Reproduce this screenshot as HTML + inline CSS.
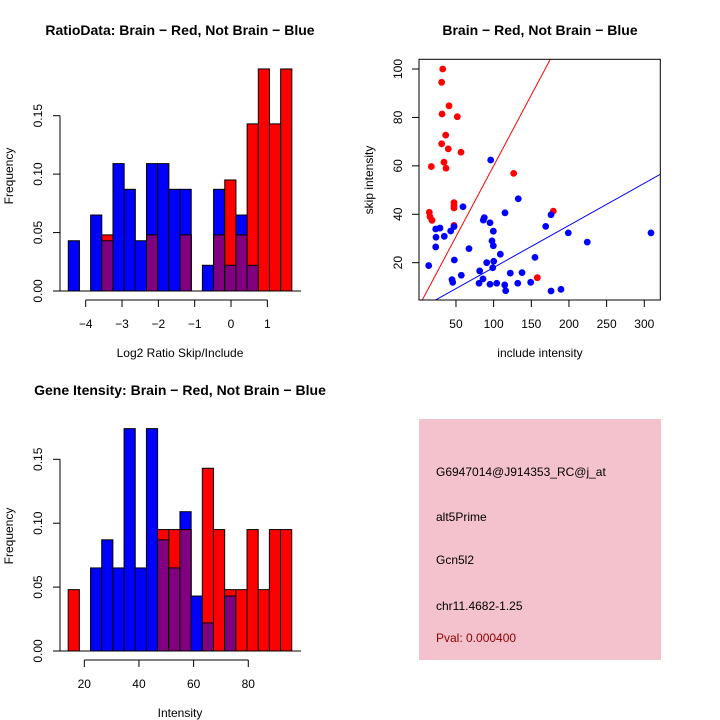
<!DOCTYPE html>
<html><head><meta charset="utf-8"><style>
html,body{margin:0;padding:0;background:#fff;}
svg{display:block;font-family:"Liberation Sans",sans-serif;}
</style></head><body>
<svg id="c" width="720" height="720" viewBox="0 0 720 720" xmlns="http://www.w3.org/2000/svg">
<rect x="0" y="0" width="720" height="720" fill="#fff"/>
<g id="p1"></g>
<g id="p2"></g>
<g id="p3"></g>
<g id="p4">
<rect x="419" y="419" width="242" height="241" fill="#f4c2cd"/>
<text x="436" y="476" font-size="12">G6947014@J914353_RC@j_at</text>
<text x="436" y="521" font-size="12">alt5Prime</text>
<text x="436" y="564" font-size="12">Gcn5l2</text>
<text x="436" y="610" font-size="12">chr11.4682-1.25</text>
<text x="436" y="642" font-size="12" fill="#8b0000">Pval: 0.000400</text>
</g>
</svg>
<script>
// ---- Panel 1: ratio histogram data ----
const ratioBinStart = -4.48;
const ratioBinWidth = 0.3077;
const ratioBlue = [0.043,0,0.065,0.043,0.109,0.087,0.043,0.109,0.109,0.087,0.087,0,0.022,0.087,0.022,0.065,0.022,0,0,0];
const ratioRed  = [0,0,0,0.048,0,0,0,0.048,0,0,0.048,0,0,0.048,0.095,0.048,0.143,0.190,0.143,0.190];
const ratioXTicks = [-4,-3,-2,-1,0,1];
const freqTicks = [0,0.05,0.10,0.15];
const freqTickLabels = ["0.00","0.05","0.10","0.15"];

// ---- Panel 3: gene intensity histogram data ----
const intBinStart = 14.1;
const intBinWidth = 4.09;
const intBlue = [0,0,0.065,0.087,0.065,0.174,0.065,0.174,0.087,0.065,0.109,0.043,0.022,0,0.043,0,0,0,0,0];
const intRed  = [0.048,0,0,0,0,0,0,0,0.095,0.095,0.095,0,0.143,0.095,0.048,0.048,0.095,0.048,0.095,0.095];
const intXTicks = [20,40,60,80];

// ---- Panel 2: scatter data ----
const redInclude = [32.4,31,40.8,31.5,51.8,36.4,31,39.8,56.7,34.1,36.8,17.3,126.6,14.6,15.5,18.2,47.4,47.4,47.4,47.4,179.2,158];
const redSkip    = [100,94.5,84.8,81.4,80.3,72.7,69.1,67,65.6,61.5,59,59.7,56.9,40.8,39,37.5,44.8,43.6,42.6,35.4,41.3,13.8];
const blueInclude = [96.1,132.7,59.3,115.1,176.2,169.1,47.4,43,28.8,23.1,34.5,23.5,23.1,86.3,87.6,95.2,99.6,97.8,99.6,199.1,224.3,308.9,67.3,108.9,154.9,13.8,47.8,90.8,100.1,98.8,81.5,122.1,137.7,57.1,44.7,45.7,85.9,80.6,95.2,104.1,114.7,116,132,149.2,176.2,189.4];
const blueSkip    = [62.4,46.4,43.1,40.6,39.8,35,34.9,33.1,34.3,33.9,30.9,30.5,26.5,37.6,38.6,36.5,33,29,27,32.3,28.5,32.3,25.8,23.5,22.2,18.8,21.1,20,20.6,17.9,16.6,15.7,15.9,14.8,13,11.9,13.3,11.5,11.1,11.5,10.8,8.4,11.5,11.9,8.3,9];
const redFit = [1.5,0.585];   // intercept, slope
const blueFit = [0.6,0.174];
const scatterXTicks = [50,100,150,200,250,300];
const scatterYTicks = [20,40,60,80,100];

const NS = "http://www.w3.org/2000/svg";
function mk(parent, tag, attrs, text){
  const e = document.createElementNS(NS, tag);
  for (const k in attrs) e.setAttribute(k, attrs[k]);
  if (text !== undefined) e.textContent = text;
  parent.appendChild(e);
  return e;
}

function histogram(g, o){
  const sx = v => o.x0 + (v - o.xRef0) * o.xScale;
  const sy = v => o.yBase - v * o.yScale;
  const n = o.blue.length;
  for (let i = 0; i < n; i++){
    const a = o.start + i * o.width, b = a + o.width;
    const x1 = sx(a), x2 = sx(b);
    const bl = o.blue[i], rd = o.red[i];
    if (bl > 0){
      const r = mk(g, 'rect', {x:x1, y:sy(bl), width:x2-x1, height:sy(0)-sy(bl), fill:'#0000ff', stroke:'#000', 'stroke-width':1});
      
      
    }
    if (rd > 0){
      const r = mk(g, 'rect', {x:x1, y:sy(rd), width:x2-x1, height:sy(0)-sy(rd), fill:'#ff0000', stroke:'#000', 'stroke-width':1});
      
      
    }
    const m = Math.min(bl, rd);
    if (m > 0){
      const r = mk(g, 'rect', {x:x1, y:sy(m), width:x2-x1, height:sy(0)-sy(m), fill:'#800080', stroke:'#000', 'stroke-width':1});
      
      
    }
  }
  // baseline
  const bl = mk(g, 'line', {x1:60, x2:301, y1:sy(0), y2:sy(0), stroke:'#000'});
  
  
  // y axis
  const ya = mk(g, 'line', {x1:60, x2:60, y1:sy(0), y2:sy(0.15), stroke:'#000'});
  
  
  freqTicks.forEach((t, i) => {
    const y = sy(t);
    const tl = mk(g, 'line', {x1:53, x2:60, y1:y, y2:y, stroke:'#000'});
    
    
    const tx = mk(g, 'text', {x:0, y:0, 'font-size':12, 'text-anchor':'middle', transform:`translate(42,${y}) rotate(-90)`}, freqTickLabels[i]);
    
    
  });
  const yl = mk(g, 'text', {x:0, y:0, 'font-size':12, 'text-anchor':'middle', transform:`translate(13,${o.yLabelY}) rotate(-90)`}, 'Frequency');
  
  
  // x axis
  const t0 = o.ticks[0], t1 = o.ticks[o.ticks.length-1];
  const xa = mk(g, 'line', {x1:sx(t0), x2:sx(t1), y1:o.axisY, y2:o.axisY, stroke:'#000'});
  
  
  o.ticks.forEach(t => {
    const x = sx(t);
    const tl = mk(g, 'line', {x1:x, x2:x, y1:o.axisY, y2:o.axisY+7, stroke:'#000'});
    
    
    const tx = mk(g, 'text', {x:x, y:o.axisY+28, 'font-size':12, 'text-anchor':'middle'}, String(t).replace('-', '\u2212'));
    
    
  });
  const xl = mk(g, 'text', {x:180, y:o.axisY+57, 'font-size':12, 'text-anchor':'middle'}, o.xLabel);
  
  
  const ti = mk(g, 'text', {x:180, y:o.titleY, 'font-size':14, 'font-weight':'bold', 'text-anchor':'middle'}, o.title);
  
  
}

histogram(document.getElementById('p1'), {
  blue: ratioBlue, red: ratioRed, start: ratioBinStart, width: ratioBinWidth,
  x0: 85.7, xRef0: -4, xScale: 36.33, yBase: 291, yScale: 1168.7,
  ticks: ratioXTicks, axisY: 300, yLabelY: 176,
  xLabel: 'Log2 Ratio Skip/Include', title: 'RatioData: Brain \u2212 Red, Not Brain \u2212 Blue', titleY: 35
});
histogram(document.getElementById('p3'), {
  blue: intBlue, red: intRed, start: intBinStart, width: intBinWidth,
  x0: 84.3, xRef0: 20, xScale: 2.733, yBase: 651, yScale: 1278,
  ticks: intXTicks, axisY: 660, yLabelY: 536,
  xLabel: 'Intensity', title: 'Gene Itensity: Brain \u2212 Red, Not Brain \u2212 Blue', titleY: 395
});

// ---- scatter ----
(function(){
  const g = document.getElementById('p2');
  const L = 419, R = 660.3, T = 59.3, B = 300;
  const sx = v => 418.3 + v * 0.7533;
  const sy = v => 311.1 - v * 2.421;
  const xMin = (L - 418.3) / 0.7533, xMax = (R - 418.3) / 0.7533;
  const yMin = (311.1 - B) / 2.421, yMax = (311.1 - T) / 2.421;
  const clip = mk(g, 'clipPath', {id:'sc'});
  mk(clip, 'rect', {x:L, y:T, width:R-L, height:B-T});
  function fit(f, color, name){
    let x1 = xMin, x2 = xMax;
    let y1 = f[0] + f[1]*x1, y2 = f[0] + f[1]*x2;
    const ln = mk(g, 'line', {x1:sx(x1), y1:sy(y1), x2:sx(x2), y2:sy(y2), stroke:color, 'stroke-width':1, 'clip-path':'url(#sc)'});
    
    
  }
  fit(redFit, '#ff0000', 'red-fit-line');
  fit(blueFit, '#0000ff', 'blue-fit-line');
  redInclude.forEach((v, i) => {
    const c = mk(g, 'circle', {cx:sx(v), cy:sy(redSkip[i]), r:3.4, fill:'#ff0000'});
    
    
  });
  blueInclude.forEach((v, i) => {
    const c = mk(g, 'circle', {cx:sx(v), cy:sy(blueSkip[i]), r:3.4, fill:'#0000ff'});
    
    
  });
  const box = mk(g, 'rect', {x:L, y:T, width:R-L, height:B-T, fill:'none', stroke:'#000'});
  
  
  scatterXTicks.forEach(t => {
    const x = sx(t);
    const tl = mk(g, 'line', {x1:x, x2:x, y1:B, y2:B+7, stroke:'#000'});
    
    
    const tx = mk(g, 'text', {x:x, y:328, 'font-size':12, 'text-anchor':'middle'}, String(t));
    
    
  });
  scatterYTicks.forEach(t => {
    const y = sy(t);
    const tl = mk(g, 'line', {x1:L-7, x2:L, y1:y, y2:y, stroke:'#000'});
    
    
    const tx = mk(g, 'text', {x:0, y:0, 'font-size':12, 'text-anchor':'middle', transform:`translate(402,${y}) rotate(-90)`}, String(t));
    
    
  });
  const xl = mk(g, 'text', {x:540, y:357, 'font-size':12, 'text-anchor':'middle'}, 'include intensity');
  
  
  const yl = mk(g, 'text', {x:0, y:0, 'font-size':12, 'text-anchor':'middle', transform:'translate(373,180) rotate(-90)'}, 'skip intensity');
  
  
  const ti = mk(g, 'text', {x:540, y:35, 'font-size':14, 'font-weight':'bold', 'text-anchor':'middle'}, 'Brain \u2212 Red, Not Brain \u2212 Blue');
  
  
})();
</script>
</body></html>
